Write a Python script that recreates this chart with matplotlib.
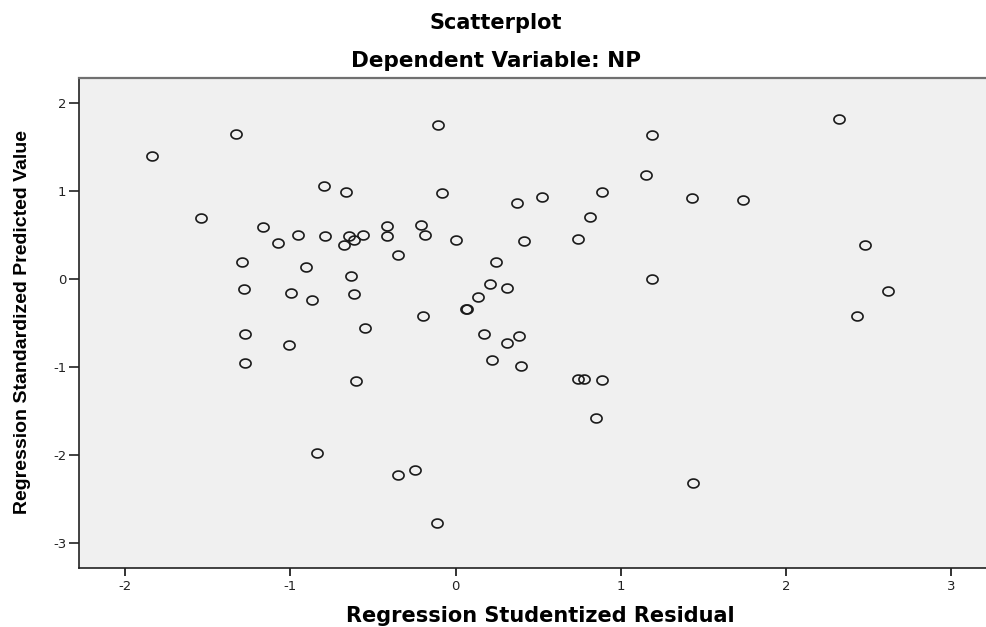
import matplotlib
matplotlib.use("Agg")
import matplotlib.pyplot as plt
import numpy as np
from matplotlib.path import Path

plt.rcParams["axes.unicode_minus"] = False

# Regression studentized residual (x) vs standardized predicted value (y)
resid = [-1.84, -1.33, -1.54, -0.80, -0.665, -0.11, -0.085, -1.166, -1.077, -0.956,
         -0.79, -0.645, -0.676, -0.615, -0.559, -0.417, -0.417, -0.351, -0.212, -0.187,
         0.0, -1.295, -0.907, -0.632, -1.283, -0.998, -0.869, -0.613, -0.20, -0.547,
         -1.277, 0.066, 0.06, 0.137, 0.207, 0.244, 0.173,
         2.32, 1.187, 1.149, 0.885, 0.522, 0.371, 1.428, 1.742, 0.814, 0.415, 0.738,
         0.312, 1.187, 2.48, 2.615, 2.43, 0.383,
         0.312, 0.22, 0.393, 0.738, 0.778, 0.887, 0.847, 1.437,
         -1.007, -1.277, -0.603, -0.839, -0.351, -0.246, -0.115]
pred = [1.40, 1.65, 0.70, 1.06, 0.99, 1.75, 0.98, 0.59, 0.41, 0.50,
        0.49, 0.49, 0.39, 0.45, 0.50, 0.60, 0.49, 0.28, 0.62, 0.50,
        0.44, 0.19, 0.14, 0.04, -0.11, -0.16, -0.24, -0.17, -0.42, -0.56,
        -0.63, -0.34, -0.335, -0.20, -0.06, 0.20, -0.63,
        1.82, 1.64, 1.19, 0.99, 0.94, 0.87, 0.92, 0.90, 0.705, 0.43, 0.46,
        -0.10, 0.0, 0.39, -0.13, -0.42, -0.645,
        -0.73, -0.92, -0.99, -1.14, -1.14, -1.15, -1.58, -2.32,
        -0.755, -0.95, -1.16, -1.98, -2.23, -2.17, -2.78]

xticks = [-2, -1, 0, 1, 2, 3]
yticks = [-3, -2, -1, 0, 1, 2]

# slightly flattened open circle, like the SPSS output
t = np.linspace(0, 2 * np.pi, 60)
ellipse = Path(np.column_stack([np.cos(t), 0.8 * np.sin(t)]), closed=True)

fig = plt.figure(figsize=(9.86, 6.27), dpi=100)
ax = fig.add_axes([79 / 986, 1 - 568 / 627, 1 - 79 / 986, (568 - 78) / 627])
ax.set_facecolor("#f0f0f0")

ax.plot(resid, pred, linestyle="none", marker=ellipse, markersize=8,
        markerfacecolor="none", markeredgecolor="#1a1a1a", markeredgewidth=1.2)

ax.set_xlim(-2.28, 3.21)
ax.set_ylim(-3.29, 2.29)
ax.set_xticks(xticks)
ax.set_yticks(yticks)
ax.tick_params(axis="x", direction="out", length=5.5, width=1.3, color="#222222",
               labelsize=9.5, labelcolor="#222222", pad=3)
ax.tick_params(axis="y", direction="out", length=7.5, width=1.2, color="#222222",
               labelsize=9.5, labelcolor="#222222", pad=1.5)

for side in ["left", "bottom"]:
    ax.spines[side].set_color("#222222")
    ax.spines[side].set_linewidth(1.2)
ax.spines["top"].set_color("#707070")
ax.spines["top"].set_linewidth(1.6)
ax.spines["right"].set_visible(False)

wide = "DejaVu Sans"
fig.text(0.503, 1 - 23 / 627, "Scatterplot", ha="center", va="center",
         fontsize=15, fontweight="bold", family=wide)
fig.text(0.503, 1 - 61 / 627, "Dependent Variable: NP", ha="center", va="center",
         fontsize=15.5, fontweight="bold", family=wide)
fig.text(540 / 986, 1 - 616 / 627, "Regression Studentized Residual", ha="center",
         va="center", fontsize=15, fontweight="bold", family=wide)
fig.text(23 / 986, 1 - 322 / 627, "Regression Standardized Predicted Value",
         ha="center", va="center", rotation=90, fontsize=14, fontweight="bold",
         family="Liberation Sans")

for lab in ax.get_xticklabels() + ax.get_yticklabels():
    lab.set_family(wide)

fig.savefig("out.png", dpi=100)
